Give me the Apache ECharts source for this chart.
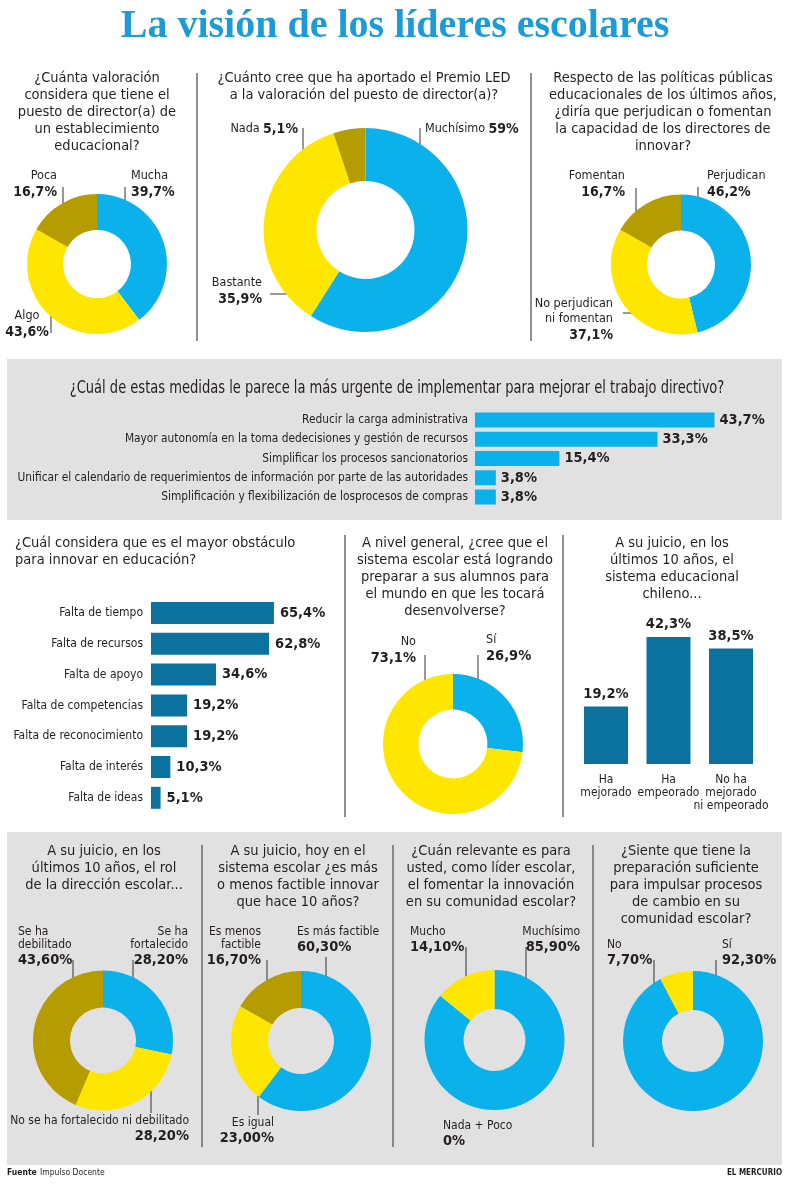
<!DOCTYPE html>
<html>
<head>
<meta charset="utf-8">
<script src="https://cdn.jsdelivr.net/npm/echarts@6/dist/echarts.min.js"></script>
<style>
html, body { margin: 0; padding: 0; background: #fff; }
#chart { width: 800px; height: 1192px; }
</style>
</head>
<body>
<div id="chart"></div>
<script>
// ---- data ----
const valoracionNames = ['Mucha', 'Algo', 'Poca'];
const valoracionValues = [39.7, 43.6, 16.7];

const premioNames = ['Muchísimo', 'Bastante', 'Nada'];
const premioValues = [59, 35.9, 5.1];

const politicasNames = ['Perjudican', 'No perjudican\nni fomentan', 'Fomentan'];
const politicasValues = [46.2, 37.1, 16.7];

const medidasCats = [
    'Reducir la carga administrativa',
    'Mayor autonomía en la toma dedecisiones y gestión de recursos',
    'Simplificar los procesos sancionatorios',
    'Unificar el calendario de requerimientos de información por parte de las autoridades',
    'Simplificación y flexibilización de losprocesos de compras'
];
const medidasValues = [43.7, 33.3, 15.4, 3.8, 3.8];

const obstaculoCats = ['Falta de tiempo', 'Falta de recursos', 'Falta de apoyo', 'Falta de competencias',
    'Falta de reconocimiento', 'Falta de interés', 'Falta de ideas'];
const obstaculoValues = [65.4, 62.8, 34.6, 19.2, 19.2, 10.3, 5.1];

const preparaNames = ['Sí', 'No'];
const preparaValues = [26.9, 73.1];

const sistemaCats = ['Ha\nmejorado', 'Ha\nempeorado', 'No ha\nmejorado\nni empeorado'];
const sistemaValues = [19.2, 42.3, 38.5];

const rolNames = ['Se ha\nfortalecido', 'No se ha fortalecido ni debilitado', 'Se ha\ndebilitado'];
const rolValues = [28.2, 28.2, 43.6];

const factibleNames = ['Es más factible', 'Es igual', 'Es menos\nfactible'];
const factibleValues = [60.3, 23.0, 16.7];

const relevanteNames = ['Muchísimo', 'Nada + Poco', 'Mucho'];
const relevanteValues = [85.9, 0, 14.1];

const sienteNames = ['Sí', 'No'];
const sienteValues = [92.3, 7.7];

// ---- styles ----
const BLUE = '#0ab1eb', YELLOW = '#ffe600', OLIVE = '#b59c00', DARK = '#0b72a0';
const TXT = '#231f20';
const F_T = "'DejaVu Sans Condensed', 'DejaVu Sans', sans-serif";

const chart = echarts.init(document.getElementById('chart'));

function pct(v, dec) {
    if (dec === 2) return v === 0 ? '0%' : v.toFixed(2).replace('.', ',') + '%';
    return String(v).replace('.', ',') + '%';
}

// label spots: x, y (top of label), align, leader line
function donut(center, radius, names, values, colors, spots, opt) {
    return {
        type: 'pie',
        center: center,
        radius: radius,
        startAngle: 90,
        clockwise: true,
        silent: true,
        avoidLabelOverlap: false,
        data: names.map(function (n, i) {
            return {
                name: n,
                value: values[i],
                itemStyle: { color: colors[i] },
                labelLine: { show: !!spots[i].line }
            };
        }),
        label: {
            show: true,
            formatter: function (p) {
                let s = spots[p.dataIndex];
                let v = pct(p.value, opt.dec);
                return s.inline ? '{n|' + p.name + '} {v|' + v + '}' : '{n|' + p.name + '}\n{v|' + v + '}';
            },
            rich: {
                n: { fontFamily: F_T, fontSize: opt.nSize, lineHeight: opt.nLH, color: TXT },
                v: { fontFamily: F_T, fontSize: opt.vSize, fontWeight: 'bold', lineHeight: 18, color: TXT }
            }
        },
        labelLine: { show: true, lineStyle: { color: '#333', width: 1 } },
        labelLayout: function (p) {
            let s = spots[p.dataIndex];
            let o = { x: s.x, y: s.y, align: s.align, verticalAlign: 'top' };
            if (s.line) o.labelLinePoints = [s.line[0], s.line[0], s.line[1]];
            return o;
        }
    };
}

const topOpt = { dec: null, nSize: 12.5, nLH: 15, vSize: 14 };
const botOpt = { dec: 2, nSize: 12, nLH: 13, vSize: 14.5 };

const spots1 = [
    { x: 131, y: 168.5, align: 'left', line: [[125, 187], [125, 210]] },
    { x: 27, y: 308.5, align: 'center', line: [[51, 304], [51, 333]] },
    { x: 57, y: 168.5, align: 'right', line: [[63, 187], [63, 210]] }
];
const spots2 = [
    { x: 425, y: 120, align: 'left', inline: true, line: [[420, 128], [420, 152]] },
    { x: 262, y: 275.5, align: 'right', line: [[270, 294], [293, 294]] },
    { x: 298, y: 120, align: 'right', inline: true, line: [[303, 128], [303, 152]] }
];
const spots3 = [
    { x: 707, y: 168.5, align: 'left', line: [[698, 187], [698, 212]] },
    { x: 613, y: 296.5, align: 'right', line: [[623, 313], [639, 313]] },
    { x: 625, y: 168.5, align: 'right', line: [[636, 188], [636, 212]] }
];
const spots4 = [
    { x: 486, y: 632.5, align: 'left', line: [[478, 655], [478, 687]] },
    { x: 416, y: 634.5, align: 'right', line: [[425, 655], [425, 687]] }
];
const spots5 = [
    { x: 188, y: 925.5, align: 'right', line: [[133, 960], [133, 992]] },
    { x: 189, y: 1114.5, align: 'right', line: [[151, 1080], [151, 1113]] },
    { x: 18, y: 925.5, align: 'left', line: [[73, 960], [73, 992]] }
];
const spots6 = [
    { x: 297, y: 925.5, align: 'left', line: [[326, 957], [326, 990]] },
    { x: 274, y: 1116.5, align: 'right', line: [[258, 1078], [258, 1115]] },
    { x: 261, y: 925.5, align: 'right', line: [[267, 960], [267, 992]] }
];
const spots7 = [
    { x: 580, y: 925.5, align: 'right', line: [[526, 947], [526, 987]] },
    { x: 443, y: 1119.5, align: 'left' },
    { x: 410, y: 925.5, align: 'left', line: [[466, 947], [466, 987]] }
];
const spots8 = [
    { x: 722, y: 938.5, align: 'left', line: [[716, 960], [716, 987]] },
    { x: 607, y: 938.5, align: 'left', line: [[654, 960], [654, 987]] }
];

function txt(x, y, text, font, align, vAlign, lh, fill) {
    return {
        type: 'text', x: x, y: y, z: 10, silent: true,
        style: {
            text: text, font: font, fill: fill || TXT,
            textAlign: align, align: align,
            textVerticalAlign: vAlign || 'top', verticalAlign: vAlign || 'top',
            lineHeight: lh || 17
        }
    };
}
function vline(x, y1, y2) {
    return { type: 'line', silent: true, z: 1, shape: { x1: x, y1: y1, x2: x, y2: y2 }, style: { stroke: '#6a6a6a', lineWidth: 1.5 } };
}
const QF = '14.5px ' + F_T;

// condensed headline of the grey band
const medidasTitle = txt(397, 388, '¿Cuál de estas medidas le parece la más urgente de implementar para mejorar el trabajo directivo?',
    '17.5px ' + F_T, 'center', 'middle');
medidasTitle.scaleX = 0.83;

const graphics = [
    { type: 'rect', z: -10, silent: true, shape: { x: 7, y: 359, width: 775, height: 161 }, style: { fill: '#e1e1e1' } },
    { type: 'rect', z: -10, silent: true, shape: { x: 7, y: 832, width: 775, height: 333 }, style: { fill: '#e1e1e1' } },
    txt(395, 27, 'La visión de los líderes escolares', "bold 40px 'Liberation Serif', serif", 'center', 'middle', 40, '#1b9bd7'),
    // section 1
    txt(97, 69.5, '¿Cuánta valoración\nconsidera que tiene el\npuesto de director(a) de\nun establecimiento\neducacional?', QF, 'center'),
    txt(364, 69.5, '¿Cuánto cree que ha aportado el Premio LED\na la valoración del puesto de director(a)?', QF, 'center'),
    txt(663, 69.5, 'Respecto de las políticas públicas\neducacionales de los últimos años,\n¿diría que perjudican o fomentan\nla capacidad de los directores de\ninnovar?', QF, 'center'),
    vline(197, 73, 341), vline(531, 73, 341),
    // section 2
    medidasTitle,
    // section 3
    txt(15, 534.5, '¿Cuál considera que es el mayor obstáculo\npara innovar en educación?', QF, 'left'),
    txt(455, 534.5, 'A nivel general, ¿cree que el\nsistema escolar está logrando\npreparar a sus alumnos para\nel mundo en que les tocará\ndesenvolverse?', QF, 'center'),
    txt(672, 534.5, 'A su juicio, en los\núltimos 10 años, el\nsistema educacional\nchileno...', QF, 'center'),
    vline(345, 535, 817), vline(563, 535, 817),
    // section 4
    txt(104, 842.5, 'A su juicio, en los\núltimos 10 años, el rol\nde la dirección escolar...', QF, 'center'),
    txt(298, 842.5, 'A su juicio, hoy en el\nsistema escolar ¿es más\no menos factible innovar\nque hace 10 años?', QF, 'center'),
    txt(491, 842.5, '¿Cuán relevante es para\nusted, como líder escolar,\nel fomentar la innovación\nen su comunidad escolar?', QF, 'center'),
    txt(686, 842.5, '¿Siente que tiene la\npreparación suficiente\npara impulsar procesos\nde cambio en su\ncomunidad escolar?', QF, 'center'),
    vline(202, 845, 1147), vline(393, 845, 1147), vline(593, 845, 1147),
    // footer
    txt(7, 1173, 'Fuente', 'bold 8.5px ' + F_T, 'left', 'middle'),
    txt(40, 1173, 'Impulso Docente', '8.5px ' + F_T, 'left', 'middle'),
    txt(782, 1173, 'EL MERCURIO', 'bold 8px ' + F_T, 'right', 'middle')
];

const hidden = { show: false };

option = {
    backgroundColor: '#ffffff',
    animation: false,
    grid: [
        { left: 475, top: 410.4, width: 274, height: 96.25 },
        { left: 151, top: 597.6, width: 188, height: 215.6 },
        { left: 574.75, top: 614, width: 187.5, height: 150 }
    ],
    xAxis: [
        { gridIndex: 0, type: 'value', min: 0, max: 50, show: false },
        { gridIndex: 1, type: 'value', min: 0, max: 100, show: false },
        {
            gridIndex: 2, type: 'category', data: sistemaCats,
            axisLine: hidden, axisTick: hidden, splitLine: hidden,
            axisLabel: { margin: 9, fontFamily: F_T, fontSize: 12, lineHeight: 13, color: TXT, interval: 0 }
        }
    ],
    yAxis: [
        {
            gridIndex: 0, type: 'category', data: medidasCats, inverse: true,
            axisLine: hidden, axisTick: hidden, splitLine: hidden,
            axisLabel: { margin: 7, fontFamily: F_T, fontSize: 11.8, color: TXT }
        },
        {
            gridIndex: 1, type: 'category', data: obstaculoCats, inverse: true,
            axisLine: hidden, axisTick: hidden, splitLine: hidden,
            axisLabel: { margin: 8, fontFamily: F_T, fontSize: 12, color: TXT }
        },
        { gridIndex: 2, type: 'value', min: 0, max: 50, show: false }
    ],
    series: [
        {
            type: 'bar', xAxisIndex: 0, yAxisIndex: 0, data: medidasValues, barWidth: 15, silent: true,
            itemStyle: { color: BLUE },
            label: {
                show: true, position: 'right', distance: 5, color: TXT,
                fontFamily: F_T, fontSize: 14.5, fontWeight: 'bold',
                formatter: function (p) { return pct(p.value); }
            }
        },
        {
            type: 'bar', xAxisIndex: 1, yAxisIndex: 1, data: obstaculoValues, barWidth: 22, silent: true,
            itemStyle: { color: DARK },
            label: {
                show: true, position: 'right', distance: 6, color: TXT,
                fontFamily: F_T, fontSize: 14.5, fontWeight: 'bold',
                formatter: function (p) { return pct(p.value); }
            }
        },
        {
            type: 'bar', xAxisIndex: 2, yAxisIndex: 2, data: sistemaValues, barWidth: 44, silent: true,
            itemStyle: { color: DARK },
            label: {
                show: true, position: 'top', distance: 5, color: TXT,
                fontFamily: F_T, fontSize: 14.5, fontWeight: 'bold',
                formatter: function (p) { return pct(p.value); }
            }
        },
        donut([97, 264], [34, 70], valoracionNames, valoracionValues, [BLUE, YELLOW, OLIVE], spots1, topOpt),
        donut([365.5, 230], [49, 102], premioNames, premioValues, [BLUE, YELLOW, OLIVE], spots2, topOpt),
        donut([681, 264.5], [34, 70], politicasNames, politicasValues, [BLUE, YELLOW, OLIVE], spots3, topOpt),
        donut([453, 744], [34.5, 70], preparaNames, preparaValues, [BLUE, YELLOW], spots4, { dec: null, nSize: 12.5, nLH: 15, vSize: 14.5 }),
        donut([103, 1040.5], [33, 70], rolNames, rolValues, [BLUE, YELLOW, OLIVE], spots5, botOpt),
        donut([301, 1041], [33, 70], factibleNames, factibleValues, [BLUE, YELLOW, OLIVE], spots6, botOpt),
        donut([494.5, 1040], [31, 70], relevanteNames, relevanteValues, [BLUE, BLUE, YELLOW], spots7, botOpt),
        donut([693, 1041], [31, 70], sienteNames, sienteValues, [BLUE, YELLOW], spots8, botOpt)
    ],
    graphic: { elements: graphics }
};
chart.setOption(option);
</script>
</body>
</html>
